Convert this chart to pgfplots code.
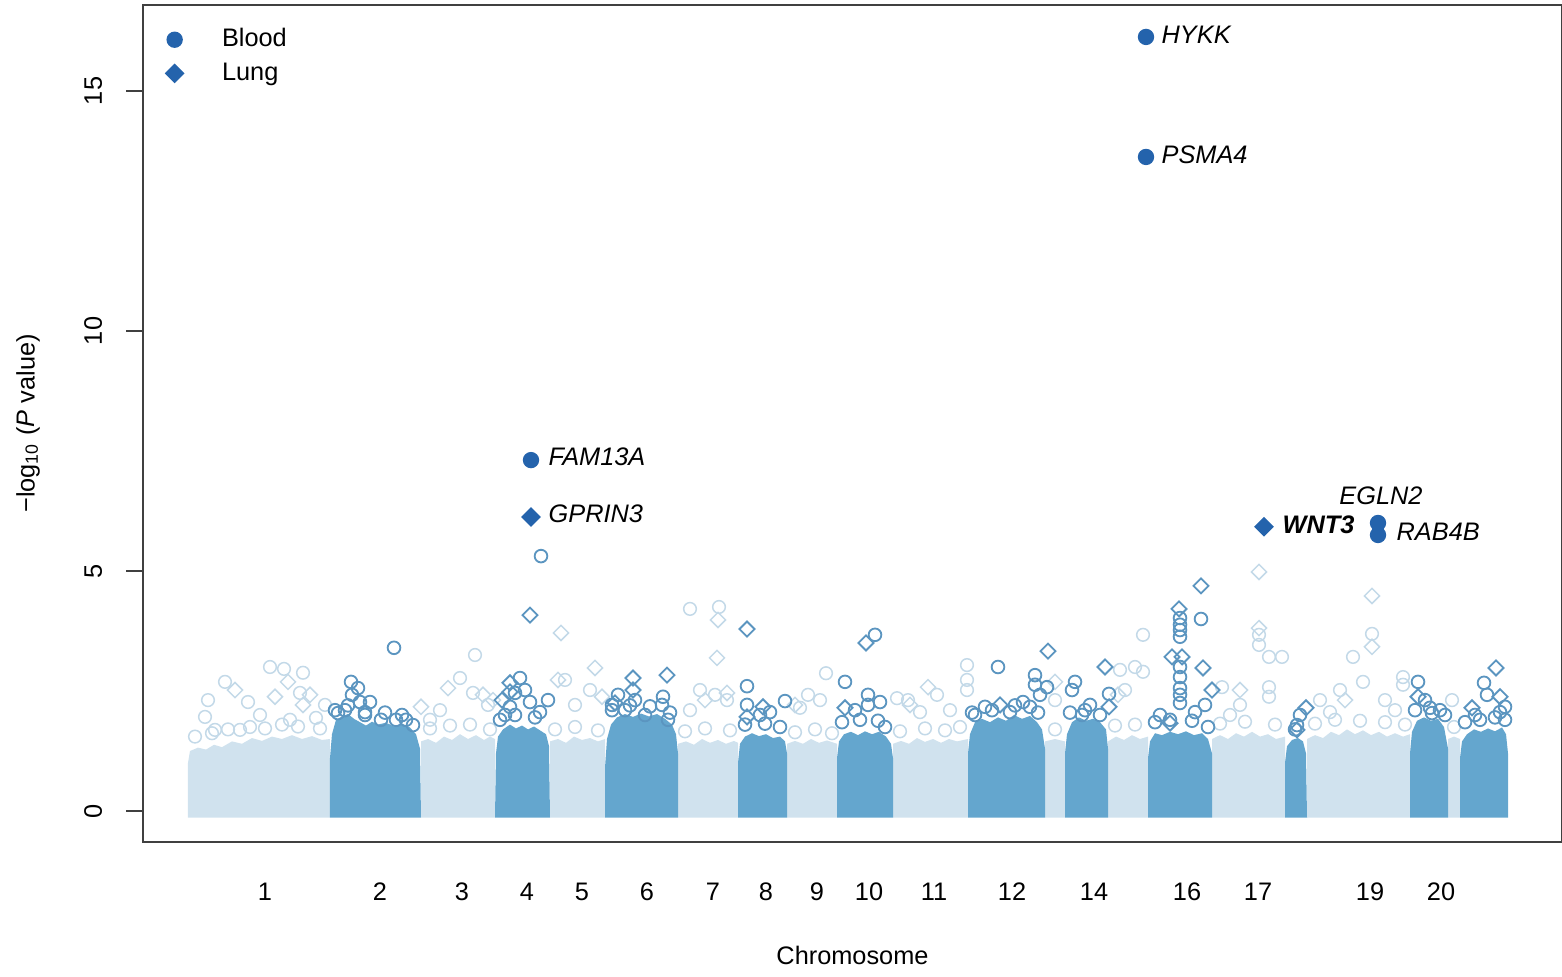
\documentclass[border=0pt]{standalone}
\usepackage{pgfplots}
\pgfplotsset{compat=1.18}
\usepackage{fontspec}
\setmainfont{Liberation Sans}

\definecolor{bandlight}{HTML}{D0E2EE}
\definecolor{banddark}{HTML}{64A6CE}
\definecolor{edgelight}{HTML}{C3D9E8}
\definecolor{edgedark}{HTML}{5B95C0}
\definecolor{hit}{HTML}{2463AC}

\begin{document}
\begin{tikzpicture}
\fontsize{7.6}{9}\selectfont
\pgfplotsset{
  lband/.style={fill=bandlight, draw=none, forget plot},
  dband/.style={fill=banddark, draw=none, forget plot},
  lo/.style={only marks, mark=o, mark size=1.9pt, edgelight, mark options={line width=0.45pt}, forget plot},
  ld/.style={only marks, mark=square, mark size=1.6pt, edgelight, mark options={line width=0.45pt, rotate=45}, forget plot},
  do/.style={only marks, mark=o, mark size=1.9pt, edgedark, mark options={line width=0.55pt}, forget plot},
  dd/.style={only marks, mark=square, mark size=1.6pt, edgedark, mark options={line width=0.55pt, rotate=45}, forget plot},
}
\begin{axis}[
    scale only axis,
    width=425.7pt, height=251.1pt,
    at={(0,0)}, anchor=south west,
    xmin=143, xmax=1562,
    ymin=-0.646, ymax=16.79,
    axis line style={line width=0.6pt, black!75},
    tick align=outside,
    ytick={0,5,10,15},
    ytick pos=left,
    major tick length=5pt,
    y tick style={line width=0.6pt, black!75},
    yticklabel style={rotate=90, anchor=south},
    yticklabel shift=4.5pt,
    xtick={265,380,462,527,582,647,713,766,817,869,934,1012,1094,1187,1258,1370,1441},
    xticklabels={1,2,3,4,5,6,7,8,9,10,11,12,14,16,17,19,20},
    xtick pos=bottom,
    x tick style={draw=none},
    xticklabel shift=4.5pt,
    /pgf/number format/assume math mode=true,
    xlabel={Chromosome},
    xlabel style={at={(axis description cs:0.5,-0.135)}, anchor=center},
    ylabel={−log\textsubscript{10} (\textit{P} value)},
    ylabel style={at={(axis description cs:-0.081,0.5)}, anchor=center},
    legend style={at={(axis cs:154,16.52)}, anchor=north west, draw=none, fill=none,
                  row sep=1.6pt, nodes={inner sep=1pt}},
    legend cell align=left,
    legend image code/.code={\draw[#1, only marks] plot coordinates {(0pt,0pt)}; \path[draw=none, fill=none] (-3pt,0pt) rectangle (13.2pt,0pt);},
]

% dense part of each chromosome, odd light, even dark
\addplot[lband] coordinates {(188,-0.14)(188,1.0)(190,1.25)(198,1.32)(206,1.28)(214,1.38)(222,1.33)(232,1.45)(242,1.4)(252,1.52)(262,1.46)(272,1.55)(282,1.5)(292,1.58)(302,1.5)(312,1.56)(322,1.48)(330,1.5)(330,-0.14)} -- cycle;
\addplot[lband] coordinates {(421,-0.14)(421,1.45)(428,1.5)(436,1.42)(444,1.55)(452,1.48)(460,1.6)(468,1.5)(476,1.58)(484,1.48)(490,1.55)(495,1.5)(495,-0.14)} -- cycle;
\addplot[lband] coordinates {(550,-0.14)(550,1.45)(558,1.5)(566,1.42)(574,1.55)(582,1.48)(590,1.52)(598,1.45)(605,1.5)(605,-0.14)} -- cycle;
\addplot[lband] coordinates {(678,-0.14)(678,1.4)(686,1.45)(694,1.38)(702,1.5)(710,1.42)(718,1.48)(726,1.4)(734,1.46)(738,1.42)(738,-0.14)} -- cycle;
\addplot[lband] coordinates {(787,-0.14)(787,1.4)(795,1.46)(803,1.4)(811,1.5)(819,1.42)(827,1.47)(837,1.4)(837,-0.14)} -- cycle;
\addplot[lband] coordinates {(893,-0.14)(893,1.4)(901,1.46)(909,1.4)(917,1.52)(925,1.44)(933,1.5)(941,1.42)(949,1.5)(957,1.45)(968,1.5)(968,-0.14)} -- cycle;
\addplot[lband] coordinates {(1045,-0.14)(1045,1.45)(1055,1.5)(1065,1.45)(1065,-0.14)} -- cycle;
\addplot[lband] coordinates {(1108,-0.14)(1108,1.45)(1116,1.55)(1124,1.48)(1132,1.58)(1140,1.5)(1148,1.55)(1148,-0.14)} -- cycle;
\addplot[lband] coordinates {(1212,-0.14)(1212,1.5)(1220,1.58)(1228,1.5)(1236,1.62)(1244,1.55)(1252,1.65)(1260,1.55)(1268,1.6)(1276,1.5)(1285,1.55)(1285,-0.14)} -- cycle;
\addplot[lband] coordinates {(1307,-0.14)(1307,1.5)(1315,1.58)(1323,1.52)(1331,1.65)(1339,1.58)(1347,1.7)(1355,1.6)(1363,1.68)(1371,1.58)(1379,1.65)(1387,1.55)(1395,1.62)(1403,1.55)(1410,1.6)(1410,-0.14)} -- cycle;
\addplot[lband] coordinates {(1448,-0.14)(1448,1.5)(1454,1.55)(1460,1.5)(1460,-0.14)} -- cycle;

\addplot[dband] coordinates {(330,-0.14)(330,1.1)(332,1.6)(336,1.9)(342,1.97)(348,2.02)(354,1.92)(360,1.85)(366,1.78)(372,1.86)(378,1.8)(386,1.84)(394,1.76)(402,1.82)(410,1.74)(416,1.6)(420,1.3)(421,-0.14)} -- cycle;
\addplot[dband] coordinates {(495,-0.14)(496,1.2)(498,1.55)(503,1.7)(510,1.8)(516,1.72)(522,1.78)(528,1.7)(534,1.76)(540,1.68)(546,1.6)(549,1.35)(550,-0.14)} -- cycle;
\addplot[dband] coordinates {(605,-0.14)(605,0.9)(607,1.5)(611,1.8)(617,1.95)(625,2.02)(633,1.96)(641,2.03)(649,1.97)(657,2.02)(665,1.92)(672,1.8)(676,1.6)(678,1.2)(678,-0.14)} -- cycle;
\addplot[dband] coordinates {(738,-0.14)(738,1.0)(740,1.4)(745,1.55)(752,1.62)(759,1.56)(766,1.6)(773,1.52)(780,1.55)(785,1.45)(787,1.2)(787,-0.14)} -- cycle;
\addplot[dband] coordinates {(837,-0.14)(837,1.1)(839,1.45)(844,1.6)(851,1.65)(858,1.58)(865,1.66)(872,1.6)(879,1.65)(886,1.55)(891,1.4)(893,1.1)(893,-0.14)} -- cycle;
\addplot[dband] coordinates {(968,-0.14)(968,1.2)(970,1.6)(975,1.85)(982,1.92)(990,1.85)(998,1.95)(1006,1.88)(1014,2.0)(1022,1.92)(1030,1.98)(1037,1.85)(1042,1.7)(1045,1.3)(1045,-0.14)} -- cycle;
\addplot[dband] coordinates {(1065,-0.14)(1065,1.2)(1067,1.6)(1072,1.85)(1079,1.95)(1086,1.88)(1093,1.92)(1100,1.85)(1106,1.7)(1108,1.3)(1108,-0.14)} -- cycle;
\addplot[dband] coordinates {(1148,-0.14)(1148,1.1)(1150,1.45)(1155,1.62)(1162,1.58)(1170,1.65)(1178,1.6)(1186,1.66)(1194,1.58)(1202,1.62)(1208,1.5)(1212,1.2)(1212,-0.14)} -- cycle;
\addplot[dband] coordinates {(1285,-0.14)(1285,1.0)(1287,1.35)(1292,1.48)(1298,1.52)(1303,1.45)(1306,1.2)(1307,-0.14)} -- cycle;
\addplot[dband] coordinates {(1410,-0.14)(1410,1.2)(1412,1.65)(1417,1.88)(1424,1.95)(1431,1.88)(1438,1.92)(1444,1.75)(1448,1.3)(1448,-0.14)} -- cycle;
\addplot[dband] coordinates {(1460,-0.14)(1460,1.1)(1462,1.45)(1467,1.6)(1474,1.7)(1481,1.65)(1488,1.72)(1495,1.66)(1502,1.74)(1506,1.6)(1508,1.2)(1508,-0.14)} -- cycle;

% scattered SNPs on light chromosomes
\addplot[lo] coordinates {
(225,2.69)(270,3.0)(284,2.96)(303,2.88)(248,2.27)(208,2.31)(205,1.96)(316,1.94)(300,2.46)(240,1.69)(290,1.90)(325,2.21)(260,2.0)(215,1.69)
(195,1.55)(212,1.62)(228,1.7)(250,1.75)(265,1.72)(282,1.8)(298,1.76)(320,1.72)
(475,3.25)(460,2.77)(473,2.46)(440,2.1)(430,1.9)(488,2.21)(430,1.72)(450,1.78)(470,1.8)(490,1.7)
(565,2.73)(590,2.52)(575,2.21)(555,1.7)(575,1.75)(598,1.68)
(690,4.21)(719,4.25)(700,2.52)(727,2.31)(690,2.1)(715,2.42)(685,1.66)(705,1.72)(730,1.68)
(808,2.42)(826,2.87)(800,2.15)(820,2.31)(795,1.64)(815,1.7)(832,1.62)
(897,2.35)(908,2.31)(937,2.42)(967,3.04)(967,2.73)(967,2.52)(950,2.1)(920,2.06)(900,1.66)(925,1.72)(945,1.68)(960,1.75)
(1055,2.31)(1055,1.7)
(1143,3.67)(1120,2.94)(1143,2.9)(1135,3.0)(1125,2.52)(1115,1.78)(1135,1.8)
(1222,2.58)(1259,3.67)(1259,3.46)(1269,3.21)(1282,3.21)(1269,2.58)(1269,2.38)(1240,2.21)(1230,2.0)(1220,1.82)(1245,1.86)(1275,1.8)
(1353,3.21)(1372,3.69)(1363,2.69)(1403,2.79)(1403,2.63)(1320,2.31)(1340,2.52)(1385,2.31)(1395,2.1)(1330,2.06)
(1315,1.82)(1335,1.9)(1360,1.88)(1385,1.85)(1405,1.8)
(1452,2.31)(1454,1.75)
};
\addplot[ld] coordinates {
(288,2.69)(275,2.38)(303,2.21)(235,2.52)(310,2.42)(421,2.17)(448,2.56)(483,2.42)(493,2.31)
(561,3.71)(595,2.98)(602,2.38)(558,2.73)(718,3.98)(717,3.19)(727,2.46)(705,2.31)(795,2.21)
(928,2.58)(910,2.21)(1055,2.69)(1118,2.42)(1259,4.98)(1259,3.81)(1240,2.52)(1372,4.48)(1372,3.42)(1345,2.31)
};

% scattered SNPs on dark chromosomes
\addplot[do] coordinates {
(394,3.40)(351,2.69)(358,2.56)(360,2.27)(370,2.27)(338,2.04)(345,2.10)(381,1.90)(396,1.90)(406,1.90)(352,2.42)(365,2.06)(413,1.79)
(335,2.1)(348,2.2)(365,2.0)(385,2.05)(402,2.0)
(541,5.31)(520,2.77)(510,2.17)(530,2.27)(548,2.31)(515,2.46)(525,2.52)(505,2.0)(540,2.06)(500,1.9)(515,2.0)(535,1.95)
(618,2.42)(635,2.31)(663,2.38)(662,2.21)(668,1.9)(625,2.1)(645,2.0)(612,2.21)(612,2.1)(630,2.2)(650,2.18)(670,2.05)
(747,2.6)(747,2.21)(785,2.29)(760,2.0)(770,2.06)(745,1.8)(765,1.82)(780,1.75)
(845,2.69)(875,3.67)(868,2.42)(880,2.27)(868,2.21)(885,1.75)(855,2.1)(842,1.85)(860,1.9)(878,1.88)
(998,3.0)(1035,2.83)(1035,2.63)(985,2.17)(1023,2.27)(1030,2.17)(1010,2.06)(1047,2.58)(1040,2.42)(975,2.0)
(972,2.05)(992,2.1)(1015,2.2)(1038,2.05)
(1075,2.69)(1072,2.52)(1082,2.0)(1109,2.44)(1090,2.21)(1070,2.05)(1085,2.1)(1100,2.0)
(1180,4.02)(1180,3.88)(1180,3.77)(1180,3.63)(1201,4.0)(1180,3.0)(1180,2.79)(1180,2.56)(1180,2.42)(1180,2.25)(1160,2.0)(1195,2.06)(1205,2.21)
(1155,1.85)(1170,1.9)(1192,1.88)(1208,1.75)
(1297,1.79)(1300,2.0)(1295,1.7)
(1418,2.69)(1432,2.04)(1425,2.31)(1440,2.1)(1415,2.1)(1430,2.15)(1445,2.0)
(1484,2.67)(1487,2.42)(1500,2.06)(1475,2.0)(1505,2.17)(1465,1.85)(1480,1.9)(1495,1.95)(1505,1.9)
};
\addplot[dd] coordinates {
(530,4.08)(510,2.67)(510,2.48)(502,2.31)(633,2.77)(633,2.52)(615,2.25)(667,2.83)(747,3.79)(763,2.17)(747,1.96)
(866,3.5)(845,2.15)(1048,3.33)(1000,2.21)(1105,3.0)(1109,2.17)(1179,4.21)(1201,4.69)(1203,2.98)(1172,3.21)(1182,3.21)
(1212,2.52)(1170,1.83)(1306,2.15)(1297,1.69)(1418,2.38)(1496,2.98)(1500,2.38)(1472,2.15)
};

% significant hits
\addplot[only marks, mark=*, mark size=2.25pt, hit] coordinates {
(1146,16.125)(1146,13.625)(531,7.31)(1378,6.0)(1378,5.75)
};
\addlegendentry{Blood}
\addplot[only marks, mark=square*, mark size=1.9pt, mark options={rotate=45}, hit] coordinates {
(531,6.125)(1264,5.92)
};
\addlegendentry{Lung}

\node[anchor=west, inner sep=0pt] at (axis cs:1161,16.17) {\textit{HYKK}};
\node[anchor=west, inner sep=0pt] at (axis cs:1161,13.67) {\textit{PSMA4}};
\node[anchor=west, inner sep=0pt] at (axis cs:548,7.375) {\textit{FAM13A}};
\node[anchor=west, inner sep=0pt] at (axis cs:548,6.19) {\textit{GPRIN3}};
\node[anchor=west, inner sep=0pt] at (axis cs:1282,5.96) {\textbf{\textit{WNT3}}};
\node[anchor=center, inner sep=0pt] at (axis cs:1381,6.56) {\textit{EGLN2}};
\node[anchor=west, inner sep=0pt] at (axis cs:1396,5.81) {\textit{RAB4B}};
\end{axis}
\pgfresetboundingbox
\path (-42.9pt,-40.2pt) rectangle (425.7pt,252.6pt);
\end{tikzpicture}
\end{document}
